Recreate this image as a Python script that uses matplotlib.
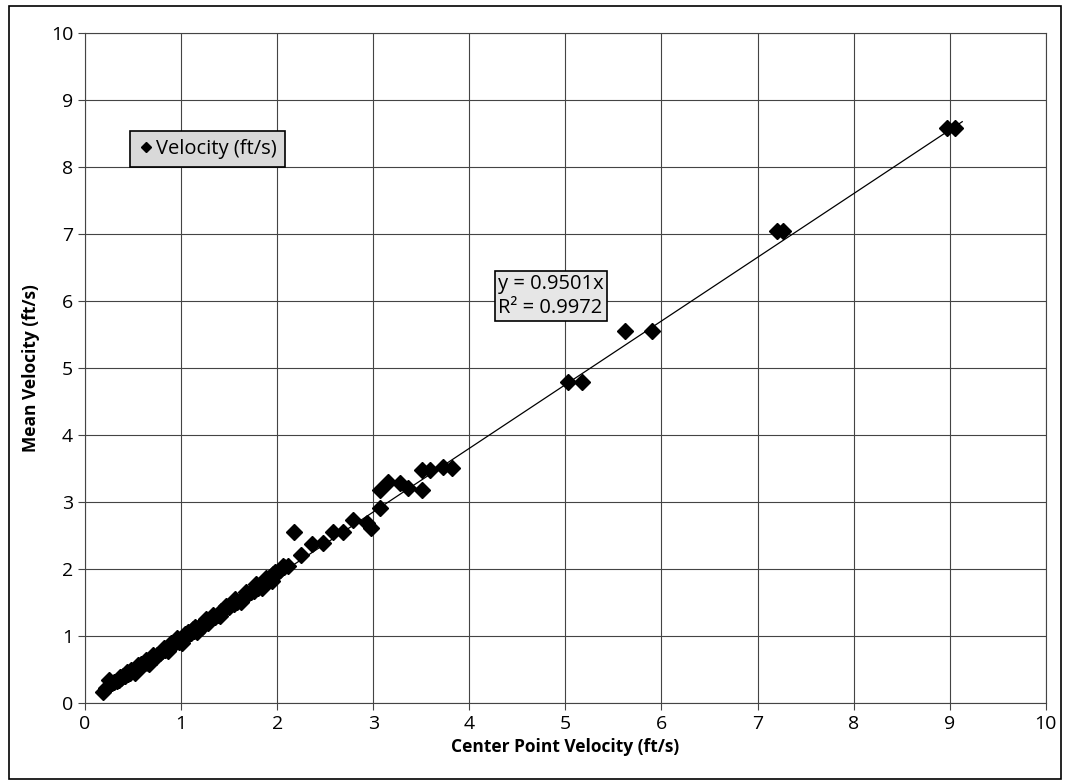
import numpy as np
import matplotlib
matplotlib.use("Agg")
from matplotlib import pyplot as plt

# data
x_low = [0.19,0.22,0.25,0.28,0.30,0.33,0.35,0.38,0.40,0.42,0.45,0.47,0.50,0.52,0.55,0.57,
         0.60,0.62,0.65,0.68,0.70,0.72,0.75,0.78,0.80,0.83,0.85,0.88,0.90,0.92,0.95,0.97,
         1.00,1.02,1.05,1.08,1.10,1.13,1.15,1.18,1.20,1.23,1.25,1.28,1.30,1.35,1.38,1.42,
         1.45,1.50,1.55,1.58,1.62,1.66,1.70,1.73,1.76,1.80,1.83,1.86,1.90,1.93,1.96,2.00,
         2.03,2.07,2.11,0.44,0.58,0.74,0.93,1.07,1.22,1.12,0.98,0.66]
y_low = [0.17,0.22,0.34,0.30,0.32,0.33,0.35,0.37,0.40,0.41,0.43,0.45,0.48,0.49,0.52,0.54,
         0.57,0.59,0.62,0.64,0.67,0.69,0.71,0.74,0.77,0.79,0.81,0.84,0.87,0.88,0.91,0.93,
         0.95,0.97,1.00,1.03,1.05,1.07,1.10,1.12,1.15,1.17,1.19,1.20,1.24,1.28,1.32,1.37,
         1.40,1.44,1.48,1.50,1.54,1.58,1.62,1.65,1.67,1.72,1.78,1.82,1.85,1.88,1.92,1.94,
         1.98,2.03,2.05,0.46,0.58,0.68,0.90,1.06,1.13,1.10,0.91,0.60]
# points off the centre of the dense band
x_band = [0.36,0.48,0.55,0.63,0.71,0.82,0.90,0.96,1.04,1.14,1.26,1.33,1.47,1.56,1.68,
          1.78,1.88,1.98,2.06,0.52,0.67,0.86,1.01,1.17,1.40,1.62,1.84,1.95]
y_band = [0.39,0.50,0.57,0.64,0.72,0.82,0.90,0.97,1.03,1.14,1.25,1.31,1.45,1.55,1.66,
          1.77,1.87,1.96,2.04,0.45,0.58,0.77,0.90,1.06,1.30,1.50,1.72,1.82]
x_mid = [2.18,2.25,2.36,2.48,2.58,2.69,2.79,2.93,2.98,3.07,3.07,3.15,3.28,3.36,3.51,3.51,
         3.59,3.73,3.82,5.03,5.17,5.62,5.90,7.20,7.26,8.97,9.05]
y_mid = [2.55,2.21,2.38,2.39,2.55,2.55,2.73,2.68,2.61,2.91,3.18,3.30,3.28,3.21,3.18,3.48,
         3.48,3.52,3.51,4.79,4.79,5.55,5.55,7.04,7.04,8.58,8.58]

vx = np.array(x_low + x_band + x_mid)
vy = np.array(y_low + y_band + y_mid)
slope = 0.9501

plt.rcParams['font.family'] = ['Open Sans', 'DejaVu Sans']
fig = plt.figure(figsize=(10.65, 7.82), dpi=100)
ax = fig.add_axes([0.0798, 0.101, 0.9022, 0.857])

ax.plot(vx, vy, linestyle='none', marker='D', markersize=8, color='black',
        label='Velocity (ft/s)', zorder=3)
xl = np.array([vx.min(), vx.max() + 0.08])
ax.plot(xl, slope * xl, color='black', linewidth=0.9, zorder=2)

ax.set_xlim(0, 10)
ax.set_ylim(0, 10)
ax.set_xticks(range(11))
ax.set_yticks(range(11))
ax.grid(True, color='#444444', linewidth=0.8)
ax.set_axisbelow(True)
for s in ax.spines.values():
    s.set_color('#444444')
    s.set_linewidth(0.8)
ax.tick_params(length=5, color='#444444', labelsize=14)
ax.set_xlabel('Center Point Velocity (ft/s)', fontsize=12.5, fontweight='bold', labelpad=4)
ax.set_ylabel('Mean Velocity (ft/s)', fontsize=12.5, fontweight='bold', labelpad=8)

leg = ax.legend(loc='upper left', bbox_to_anchor=(0.036, 0.868), fontsize=14.5,
                frameon=True, fancybox=False, handletextpad=0.1, handlelength=0.8,
                borderpad=0.4, markerscale=0.7)
leg.get_frame().set_facecolor('#d9d9d9')
leg.get_frame().set_edgecolor('black')
leg.get_frame().set_linewidth(1.2)
leg.get_frame().set_alpha(1)

ax.text(4.3, 6.07, 'y = 0.9501x\nR² = 0.9972', fontsize=14.5, va='center', ha='left',
        linespacing=1.3,
        bbox=dict(boxstyle='square,pad=0.15', facecolor='#e6e6e6', edgecolor='black',
                  linewidth=1.2))

fig.patches.append(plt.Rectangle((0.008, 0.004), 0.988, 0.988, transform=fig.transFigure,
                                 fill=False, edgecolor='black', linewidth=1.2))
fig.savefig('out.png', dpi=100)
